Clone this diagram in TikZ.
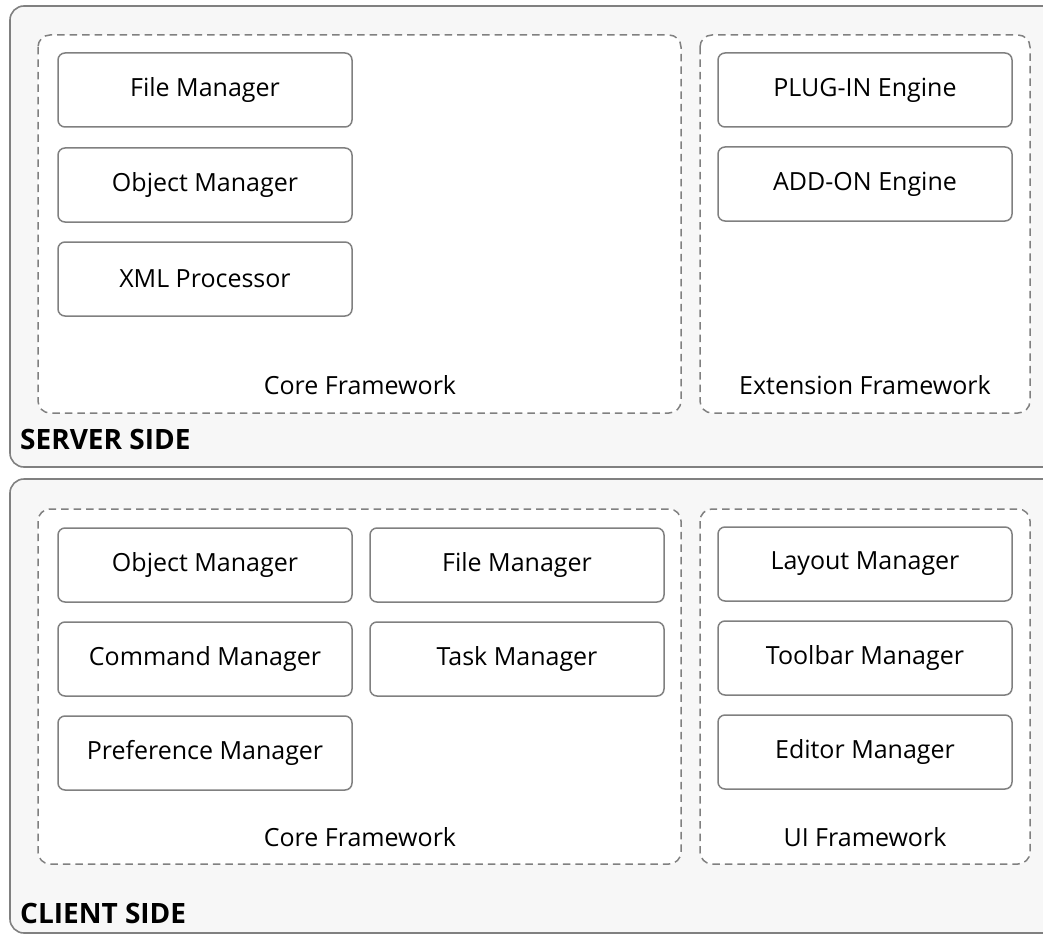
\documentclass[tikz,border=0pt]{standalone}
\usepackage{fontspec}
\setmainfont{Open Sans}
\begin{document}
\begin{tikzpicture}[x=1pt,y=-1pt,
  outerbox/.style={draw=black!50,line width=1.6pt,fill=black!3,rounded corners=14pt},
  framebox/.style={draw=black!50,line width=1.5pt,dash pattern=on 7.5pt off 5pt,fill=white,rounded corners=12pt},
  mod/.style={draw=black!50,line width=1.5pt,fill=white,rounded corners=7pt,minimum width=294pt,minimum height=74pt,font=\fontsize{25pt}{28pt}\selectfont,inner sep=0pt},
  flabel/.style={font=\fontsize{25pt}{28pt}\selectfont,inner sep=0pt},
  side/.style={font=\fontsize{28pt}{30pt}\selectfont\bfseries,inner sep=0pt,anchor=west}]
\useasboundingbox (0,0) rectangle (1043,936);
\begin{scope}
\clip (0,0) rectangle (1043,936);
% server
\path[outerbox] (10,6) rectangle (1060,467);
\path[framebox] (38,35) rectangle (681,413);
\path[framebox] (700,35) rectangle (1030,413);
\node[mod] (sfm) at (205,90) {File Manager};
\node[mod] (som) at (205,185) {Object Manager};
\node[mod] (sxml) at (205,279) {XML Processor};
\node[mod] (spi) at (865,90) {PLUG-IN Engine};
\node[mod] (sao) at (865,184) {ADD-ON Engine};
\node[flabel] (scf) at (360,385) {Core Framework};
\node[flabel] (sef) at (865,385) {Extension Framework};
\node[side] (sside) at (20,439) {SERVER SIDE};
% client
\path[outerbox] (10,479) rectangle (1060,933);
\path[framebox] (38,509) rectangle (681,864);
\path[framebox] (700,509) rectangle (1030,864);
\node[mod] (com) at (205,565) {Object Manager};
\node[mod] (cfm) at (517,565) {File Manager};
\node[mod] (ccm) at (205,659) {Command Manager};
\node[mod] (ctm) at (517,659) {Task Manager};
\node[mod] (cpm) at (205,753) {Preference Manager};
\node[mod] (clm) at (865,564) {Layout Manager};
\node[mod] (ctb) at (865,658) {Toolbar Manager};
\node[mod] (cem) at (865,752) {Editor Manager};
\node[flabel] (ccf) at (360,837) {Core Framework};
\node[flabel] (cui) at (865,837) {UI Framework};
\node[side] (cside) at (20,913) {CLIENT SIDE};
\end{scope}
\end{tikzpicture}
\end{document}
